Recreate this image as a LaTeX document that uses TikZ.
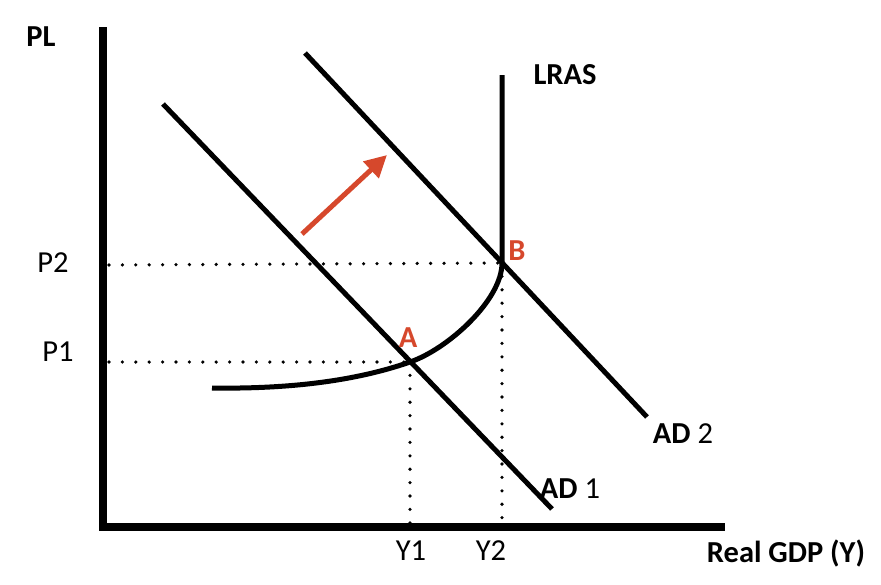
\documentclass[tikz,border=0pt]{standalone}
\usepackage{fontspec}
\setmainfont{Carlito}
\usetikzlibrary{arrows.meta}
\definecolor{redarrow}{RGB}{214,72,44}
\begin{document}
\begin{tikzpicture}[x=1pt,y=-1pt,
  axisline/.style={line width=8pt},
  curveline/.style={line width=5pt},
  dotline/.style={line width=3.6pt,line cap=round,dash pattern=on 0pt off 13.4pt},
  lbl/.style={font=\fontsize{30.5}{33}\selectfont,inner sep=0pt,text=black},
  bl/.style={lbl,font=\fontsize{30.5}{33}\selectfont\bfseries},
  ptlbl/.style={bl,text=redarrow}]
\useasboundingbox (0,0) rectangle (881,584);
% coordinates
\coordinate (ytop) at (103,27);
\coordinate (orig) at (103,527);
\coordinate (xend) at (725,527);
\coordinate (ad1s) at (163,104);
\coordinate (ad1e) at (552,509);
\coordinate (ad2s) at (305,53);
\coordinate (ad2e) at (647,417);
\coordinate (lrasTop) at (502,75);
\coordinate (B) at (502,263);
\coordinate (A) at (410,362);
\coordinate (sEnd) at (212,388);
\coordinate (p2) at (109,265);
\coordinate (p1) at (109,362);
\coordinate (y1) at (410,523);
\coordinate (y2) at (502,523);
\coordinate (arS) at (302,234);
\coordinate (arE) at (387,155);
% dotted guides
\draw[dotline] (p2) -- (B);
\draw[dotline] (p1) -- (A);
\draw[dotline] (A) -- (y1);
\draw[dotline] (B) -- (y2);
% axes
\draw[axisline] (ytop) -- (orig.center) -- (xend);
% AD curves
\draw[curveline] (ad1s) -- (ad1e);
\draw[curveline] (ad2s) -- (ad2e);
% LRAS / SRAS curve
\draw[curveline] (lrasTop) -- (B)
  .. controls (502,300) and (448,349) .. (A)
  .. controls (350,383) and (280,389) .. (sEnd);
% arrow
\draw[redarrow,line width=5pt,-{Triangle[length=22pt,width=22pt]}] (arS) -- (arE);
% labels
\node[bl] (PL) at (41,37) {PL};
\node[bl] (LRAS) at (565,75) {LRAS};
\node[ptlbl] (Blbl) at (517,251) {B};
\node[ptlbl] (Albl) at (408,338) {A};
\node[lbl] (P2) at (53,263) {P2};
\node[lbl] (P1) at (58,352) {P1};
\node[lbl] (Y1) at (411,551) {Y1};
\node[lbl] (Y2) at (491,551) {Y2};
\node[lbl] (AD2) at (683,434) {\textbf{AD} 2};
\node[lbl] (AD1) at (570,489) {\textbf{AD} 1};
\node[bl] (GDP) at (786,553) {Real GDP (Y)};
\end{tikzpicture}
\end{document}
